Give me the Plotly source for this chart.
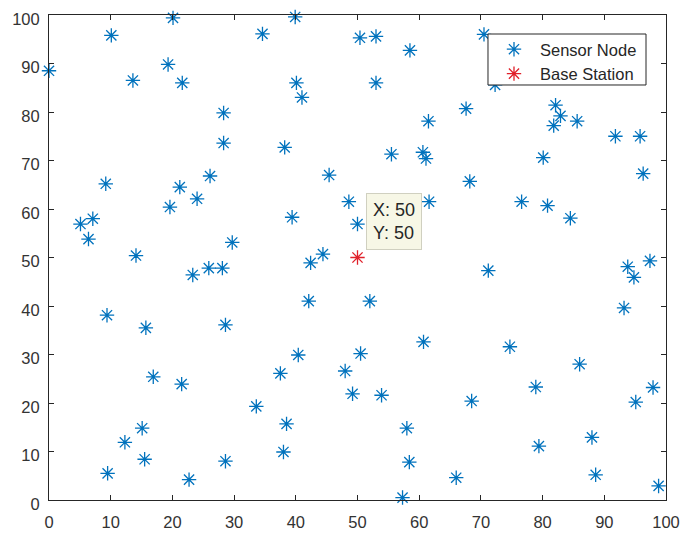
import plotly.graph_objects as go

sensor_x = [0.0, 10.1, 13.6, 19.3, 20.1, 21.6, 28.3, 28.3, 26.1, 34.6,
            39.9, 40.1, 41.0, 50.4, 53.0, 58.5, 53.0, 61.5, 67.6, 38.2,
            55.5, 60.6, 61.1, 45.4, 70.5, 72.3, 82.1, 82.9, 81.8, 85.6,
            80.1, 91.8, 95.8, 96.3, 9.2, 21.2, 24.0, 19.6, 5.1, 7.1,
            6.4, 29.7, 14.1, 23.3, 25.9, 28.1, 9.4, 15.7, 28.6, 48.6,
            61.6, 68.2, 39.4, 50.0, 44.4, 42.4, 42.1, 52.0, 60.7, 76.6,
            80.8, 84.5, 71.2, 93.8, 94.8, 97.4, 93.2, 16.9, 21.5, 15.1,
            12.3, 15.5, 9.5, 22.7, 28.6, 33.6, 40.4, 37.5, 50.5, 48.0,
            49.2, 53.9, 38.5, 38.0, 58.0, 58.4, 57.3, 66.0, 74.7, 86.0,
            78.9, 68.5, 97.9, 95.1, 79.4, 88.0, 88.6, 98.8]
sensor_y = [88.5, 95.8, 86.5, 89.8, 99.4, 86.0, 79.8, 73.6, 66.8, 96.1,
            99.6, 86.0, 83.0, 95.3, 95.6, 92.7, 86.0, 78.1, 80.7, 72.7,
            71.3, 71.7, 70.4, 67.0, 96.0, 85.6, 81.4, 79.2, 77.2, 78.1,
            70.6, 75.0, 75.0, 67.3, 65.2, 64.5, 62.1, 60.4, 56.9, 58.0,
            53.8, 53.1, 50.4, 46.4, 47.8, 47.8, 38.1, 35.5, 36.1, 61.5,
            61.5, 65.7, 58.3, 56.9, 50.7, 48.9, 41.0, 41.0, 32.6, 61.5,
            60.7, 58.1, 47.3, 48.1, 45.9, 49.3, 39.6, 25.4, 23.9, 14.8,
            11.9, 8.4, 5.5, 4.2, 8.0, 19.3, 29.9, 26.1, 30.2, 26.6,
            21.9, 21.6, 15.7, 9.9, 14.8, 7.8, 0.5, 4.6, 31.6, 28.0,
            23.3, 20.4, 23.2, 20.2, 11.1, 12.9, 5.2, 2.9]
base_x = [50]
base_y = [50]
tick_vals = [0, 10, 20, 30, 40, 50, 60, 70, 80, 90, 100]

FONT = "Liberation Sans, Arial, sans-serif"
BLUE = "#0072BD"
RED = "#E0202A"

fig = go.Figure()
fig.add_trace(go.Scatter(
    x=sensor_x, y=sensor_y, mode="markers", name="Sensor Node",
    marker=dict(symbol="asterisk-open", size=12, color=BLUE,
                line=dict(color=BLUE, width=1.3)),
    cliponaxis=False))
fig.add_trace(go.Scatter(
    x=base_x, y=base_y, mode="markers", name="Base Station",
    marker=dict(symbol="asterisk-open", size=12, color=RED,
                line=dict(color=RED, width=1.3)),
    cliponaxis=False))

axis_common = dict(range=[0, 100], tickvals=tick_vals, ticks="inside",
                   ticklen=5, tickcolor="#262626", showline=True,
                   linecolor="#262626", linewidth=1, mirror="ticks",
                   showgrid=False, zeroline=False, automargin=False,
                   tickfont=dict(family=FONT, size=16.5, color="#333333"))
fig.update_xaxes(**axis_common, ticklabelstandoff=7)
fig.update_yaxes(**axis_common, ticklabelstandoff=5, ticklabelshift=4)

# legend box (drawn as a shape so it matches the reference size exactly)
fig.add_shape(type="rect", xref="paper", yref="paper",
              x0=0.7115, x1=0.9676, y0=0.8557, y1=0.9608,
              fillcolor="white", line=dict(color="#262626", width=1),
              layer="above")

fig.add_annotation(x=base_x[0], y=base_y[0], xref="x", yref="y",
                   text="X: 50<br>Y: 50", showarrow=False,
                   xanchor="left", yanchor="bottom", xshift=8, yshift=8,
                   align="left", bgcolor="#F7F7E6", bordercolor="#D0D0C0",
                   borderwidth=1, borderpad=6,
                   font=dict(family=FONT, size=18, color="#262626"))

fig.update_layout(
    width=681, height=533,
    margin=dict(l=49, r=15, t=15, b=33, autoexpand=False),
    paper_bgcolor="white", plot_bgcolor="white",
    showlegend=True,
    legend=dict(x=0.7115, y=0.965, xanchor="left", yanchor="top",
                bgcolor="rgba(0,0,0,0)", borderwidth=0, itemwidth=42,
                font=dict(family=FONT, size=16.5, color="#262626")),
)

fig.write_html("out.html",
               config={"displayModeBar": False},
               post_script="document.body.style.margin='0';"
                           "document.body.style.overflow='hidden';")
